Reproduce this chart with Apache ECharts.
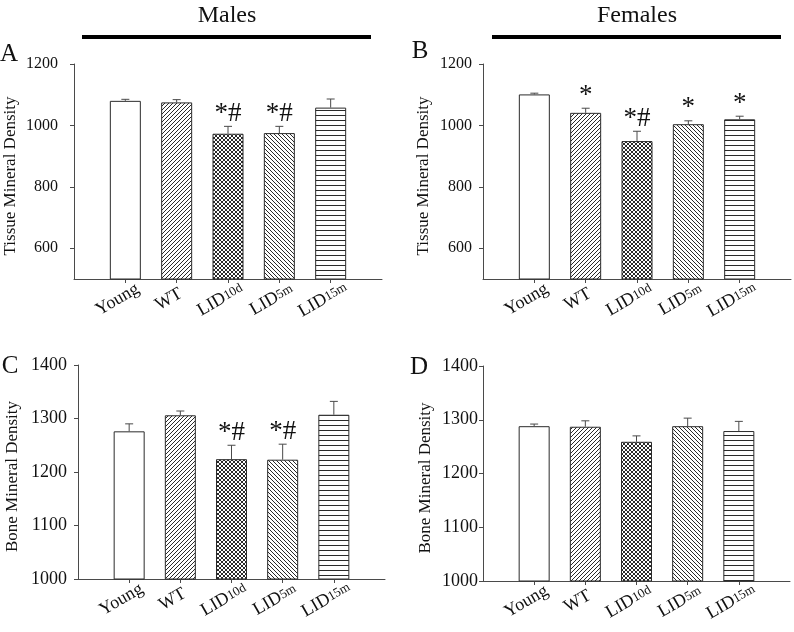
<!DOCTYPE html>
<html>
<head>
<meta charset="utf-8">
<script src="https://cdn.jsdelivr.net/npm/echarts@6/dist/echarts.min.js"></script>
<style>html,body{margin:0;padding:0;background:#fff}#c{width:794px;height:632px}</style>
</head>
<body>
<div id="c"></div>
<script>
// ---- data ----
const categories = ['Young', 'WT', 'LID10d', 'LID5m', 'LID15m'];
const tmdMales = [1080, 1075, 973, 975, 1058];
const tmdMalesErr = [5, 9, 24, 22, 28];
const tmdMalesMark = ['', '', '*#', '*#', ''];
const tmdFemales = [1101, 1041, 949, 1004, 1020];
const tmdFemalesErr = [4, 15, 32, 11, 10];
const tmdFemalesMark = ['', '*', '*#', '*', '*'];
const bmdMales = [1276, 1306, 1224, 1223, 1307];
const bmdMalesErr = [14, 8, 26, 29, 25];
const bmdMalesMark = ['', '', '*#', '*#', ''];
const bmdFemales = [1288, 1287, 1259, 1288, 1279];
const bmdFemalesErr = [4, 11, 11, 15, 18];
const bmdFemalesMark = ['', '', '', '', ''];
const tmdTicks = [600, 800, 1000, 1200];
const groupTitles = ['Males', 'Females'];
const panelLetters = ['A', 'B', 'C', 'D'];
const tmdName = 'Tissue Mineral Density';
const bmdName = 'Bone Mineral Density';

// ---- patterns ----
function makePattern(kind) {
  if (kind === 'w') return '#ffffff';
  const c = document.createElement('canvas');
  const s = kind === 'h' ? 5 : 4;
  c.width = kind === 'h' ? 4 : s; c.height = s;
  const g = c.getContext('2d');
  g.fillStyle = '#fff'; g.fillRect(0, 0, c.width, c.height);
  g.strokeStyle = '#2a2a2a'; g.lineWidth = 1;
  function fwd() { g.beginPath(); g.moveTo(-1, s + 1); g.lineTo(s + 1, -1); g.moveTo(-1, 1); g.lineTo(1, -1); g.moveTo(s - 1, s + 1); g.lineTo(s + 1, s - 1); g.stroke(); }
  function back() { g.beginPath(); g.moveTo(-1, -1); g.lineTo(s + 1, s + 1); g.moveTo(-1, s - 1); g.lineTo(1, s + 1); g.moveTo(s - 1, -1); g.lineTo(s + 1, 1); g.stroke(); }
  if (kind === 'f') fwd();
  if (kind === 'b') back();
  if (kind === 'x') { fwd(); back(); }
  if (kind === 'h') { g.beginPath(); g.moveTo(0, 0.5); g.lineTo(c.width, 0.5); g.stroke(); }
  return { image: c, repeat: 'repeat' };
}
const fills = [makePattern('w'), makePattern('f'), makePattern('x'), makePattern('b'), makePattern('h')];

const xCats = [''].concat(categories, ['']);
const FONT = '"Liberation Serif", "Times New Roman", serif';
const axisColor = '#4a4a4a';

const grids = [
  { left: 74, top: 64, width: 308, height: 215 },
  { left: 483, top: 64, width: 308, height: 215 },
  { left: 78, top: 365, width: 307, height: 214 },
  { left: 483, top: 366, width: 307, height: 215 }
];
const panels = [
  { vals: tmdMales, err: tmdMalesErr, mark: tmdMalesMark, name: tmdName, min: 500, max: 1200, ticks: tmdTicks, lblMargin: 16, lblSize: 16, nameGap: 55 },
  { vals: tmdFemales, err: tmdFemalesErr, mark: tmdFemalesMark, name: tmdName, min: 500, max: 1200, ticks: tmdTicks, lblMargin: 11, lblSize: 16, nameGap: 51 },
  { vals: bmdMales, err: bmdMalesErr, mark: bmdMalesMark, name: bmdName, min: 1000, max: 1400, interval: 100, lblMargin: 11, lblSize: 18, nameGap: 57 },
  { vals: bmdFemales, err: bmdFemalesErr, mark: bmdFemalesMark, name: bmdName, min: 1000, max: 1400, interval: 100, lblMargin: 5, lblSize: 18, nameGap: 49 }
];

function xLabel(v) {
  if (!v) return '';
  const m = v.match(/^(LID)(.+)$/);
  if (m) return '{m|LID}{s|' + m[2] + '}{sp|}';
  return '{m|' + v + '}{sp|}';
}

const xAxes = [], yAxes = [], series = [];
panels.forEach((p, k) => {
  xAxes.push({
    gridIndex: k, type: 'category', data: xCats, boundaryGap: false,
    axisLine: { lineStyle: { color: axisColor, width: 1 } },
    axisTick: { show: true, length: 4, lineStyle: { color: axisColor }, interval: (i) => i > 0 && i < xCats.length - 1 },
    axisLabel: {
      interval: 0, rotate: 30, margin: 16, align: 'center', verticalAlign: 'middle',
      formatter: xLabel,
      rich: {
        m: { fontFamily: FONT, fontSize: 18, color: '#111' },
        s: { fontFamily: FONT, fontSize: 13, color: '#111', verticalAlign: 'middle' },
        sp: { width: 18 }
      }
    },
    splitLine: { show: false }
  });
  const y = {
    gridIndex: k, type: 'value', min: p.min, max: p.max,
    name: p.name, nameLocation: 'middle', nameGap: p.nameGap, nameRotate: 90,
    nameTextStyle: { fontFamily: FONT, fontSize: 17, color: '#111', padding: [0, 9, 0, 0] },
    axisLine: { show: true, lineStyle: { color: axisColor, width: 1 } },
    axisTick: { show: true, length: 4, inside: false, lineStyle: { color: axisColor } },
    axisLabel: { fontFamily: FONT, fontSize: p.lblSize, color: '#111', margin: p.lblMargin, formatter: (v) => String(v) },
    splitLine: { show: false }
  };
  if (p.interval) y.interval = p.interval;
  if (p.ticks) { y.axisLabel.customValues = p.ticks; y.axisTick.customValues = p.ticks; }
  yAxes.push(y);

  const barData = [null].concat(p.vals.map((v, i) => ({ value: v, itemStyle: { color: fills[i] } })), [null]);
  series.push({
    type: 'bar', xAxisIndex: k, yAxisIndex: k, data: barData, barWidth: 31,
    itemStyle: { borderColor: '#2b2b2b', borderWidth: 1 }, silent: true, z: 2
  });
  const errData = p.vals.map((v, i) => [i + 1, v, p.err[i], p.mark[i]]);
  series.push({
    type: 'custom', xAxisIndex: k, yAxisIndex: k, data: errData, z: 5, silent: true,
    renderItem: function (params, api) {
      const x = api.value(0), m = api.value(1), e = api.value(2);
      const mark = errData[params.dataIndex][3];
      const p0 = api.coord([x, m]);
      const p1 = api.coord([x, m + e]);
      const children = [
        { type: 'line', shape: { x1: p0[0], y1: p0[1], x2: p1[0], y2: p1[1] }, style: { stroke: '#4a4a4a', lineWidth: 1 } },
        { type: 'line', shape: { x1: p1[0] - 4, y1: p1[1], x2: p1[0] + 4, y2: p1[1] }, style: { stroke: '#4a4a4a', lineWidth: 1 } }
      ];
      if (mark) {
        children.push({
          type: 'text', x: p1[0], y: p1[1] + 1,
          style: { text: mark, font: '27px ' + FONT, fill: '#111', align: 'center', verticalAlign: 'bottom', textAlign: 'center', textVerticalAlign: 'bottom' }
        });
      }
      return { type: 'group', children: children };
    }
  });
});

function txt(text, x, y, size) {
  return { type: 'text', x: x, y: y, style: { text: text, font: size + 'px ' + FONT, fill: '#111', align: 'center', verticalAlign: 'middle', textAlign: 'center', textVerticalAlign: 'middle' } };
}
const graphics = [
  txt(groupTitles[0], 227, 16, 24),
  txt(groupTitles[1], 637, 16, 24),
  { type: 'rect', shape: { x: 82, y: 35, width: 289, height: 4 }, style: { fill: '#000' } },
  { type: 'rect', shape: { x: 492, y: 35, width: 289, height: 4 }, style: { fill: '#000' } },
  txt(panelLetters[0], 9, 54, 25),
  txt(panelLetters[1], 420, 51, 25),
  txt(panelLetters[2], 10, 366, 25),
  txt(panelLetters[3], 419, 367, 25)
];

const chart = echarts.init(document.getElementById('c'), null, { renderer: 'canvas' });
chart.setOption({
  animation: false,
  backgroundColor: '#fff',
  grid: grids,
  xAxis: xAxes,
  yAxis: yAxes,
  series: series,
  graphic: graphics
});
</script>
</body>
</html>
